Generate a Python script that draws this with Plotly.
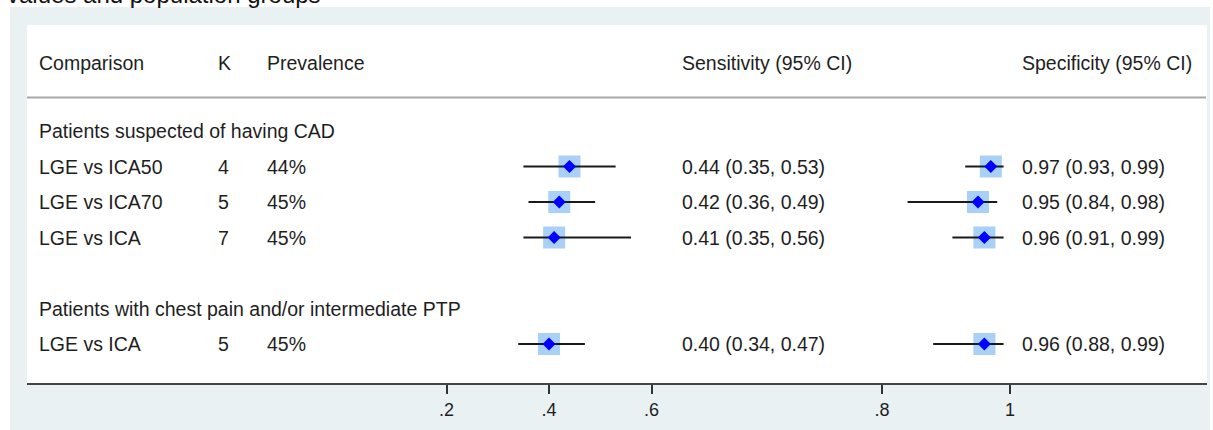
import plotly.graph_objects as go

W, H = 1213, 430

# ---------------- data ----------------
caption = "values and population groups"
headers = ["Comparison", "K", "Prevalence", "Sensitivity (95% CI)", "Specificity (95% CI)"]
groups = ["Patients suspected of having CAD", "Patients with chest pain and/or intermediate PTP"]
group_rows = [0, 5]
comparisons = ["LGE vs ICA50", "LGE vs ICA70", "LGE vs ICA", "LGE vs ICA"]
study_rows = [1, 2, 3, 6]
k_values = [4, 5, 7, 5]
prevalence = ["44%", "45%", "45%", "45%"]
sens = [0.44, 0.42, 0.41, 0.40]
sens_lo = [0.35, 0.36, 0.35, 0.34]
sens_hi = [0.53, 0.49, 0.56, 0.47]
spec = [0.97, 0.95, 0.96, 0.96]
spec_lo = [0.93, 0.84, 0.91, 0.88]
spec_hi = [0.99, 0.98, 0.99, 0.99]
sens_ticks = [0.2, 0.4, 0.6]
sens_ticktext = [".2", ".4", ".6"]
spec_ticks = [0.8, 1.0]
spec_ticktext = [".8", "1"]

# ---------------- layout helpers ----------------
FONT = "Arial, Liberation Sans, sans-serif"
TXT = "#1e1e1e"
BOX = "#a9d0f6"
DIAM = "#0000ff"
BG = "#e9f1f3"
FS = 19.5

ROW0_PX, ROW_STEP = 131.0, 35.5
PLOT_TOP, PLOT_BOT = 25, 383
SPLIT_PX = 820
PLOT_L, PLOT_R = 27, 1207


def px_x(x):
    return x / W


def px_y(y):
    return 1 - y / H


def row_of(ypx):
    return (ypx - ROW0_PX) / ROW_STEP


# sensitivity scale: .4 at 549px, 512.5 px per unit
def sens_val(px):
    return 0.4 + (px - 549) / 512.5


# specificity scale: .8 at 882px, 640 px per unit
def spec_val(px):
    return 0.8 + (px - 882) / 640.0


fig = go.Figure()

for xa, est, lo, hi in [("x", sens, sens_lo, sens_hi), ("x2", spec, spec_lo, spec_hi)]:
    fig.add_trace(go.Scatter(
        x=est, y=study_rows, xaxis=xa, yaxis="y", mode="markers",
        marker=dict(symbol="square", size=22, color=BOX, line=dict(width=0)),
        hoverinfo="skip", showlegend=False))
    fig.add_trace(go.Scatter(
        x=est, y=study_rows, xaxis=xa, yaxis="y", mode="markers",
        marker=dict(symbol="diamond", size=10, color=DIAM, line=dict(width=0)),
        error_x=dict(type="data", symmetric=False,
                     array=[h - e for h, e in zip(hi, est)],
                     arrayminus=[e - l for e, l in zip(est, lo)],
                     width=0, thickness=2, color="#1a1a1a"),
        showlegend=False))

annotations = []


def add_text(xpx, row, text, size=FS):
    annotations.append(dict(
        xref="paper", yref="y", x=px_x(xpx), y=row, text=text,
        xanchor="left", yanchor="middle", showarrow=False,
        font=dict(family=FONT, size=size, color=TXT)))


col_px = [37, 216, 265, 680, 1020]
header_row = row_of(63)
for xp, h in zip(col_px, headers):
    add_text(xp, header_row, h)

for g, r in zip(groups, group_rows):
    add_text(col_px[0], r, g)

for i, r in enumerate(study_rows):
    add_text(col_px[0], r, comparisons[i])
    add_text(col_px[1], r, str(k_values[i]))
    add_text(col_px[2], r, prevalence[i])
    add_text(col_px[3], r, f"{sens[i]:.2f} ({sens_lo[i]:.2f}, {sens_hi[i]:.2f})")
    add_text(col_px[4], r, f"{spec[i]:.2f} ({spec_lo[i]:.2f}, {spec_hi[i]:.2f})")

# cut-off caption at top (only its lower part is visible, as in the reference)
annotations.append(dict(
    xref="paper", yref="paper", x=px_x(5), y=px_y(9.5), text=caption,
    xanchor="left", yanchor="bottom", showarrow=False,
    font=dict(family=FONT, size=24, color="#111111")))

shapes = [
    dict(type="rect", xref="paper", yref="paper", layer="below",
         x0=px_x(10), x1=px_x(1210), y0=px_y(430), y1=px_y(7),
         fillcolor=BG, line=dict(width=0)),
    dict(type="rect", xref="paper", yref="paper", layer="below",
         x0=px_x(PLOT_L), x1=px_x(PLOT_R), y0=px_y(PLOT_BOT), y1=px_y(PLOT_TOP),
         fillcolor="white", line=dict(width=0)),
    dict(type="line", xref="paper", yref="paper", layer="below",
         x0=px_x(PLOT_L), x1=px_x(1206), y0=px_y(97.5), y1=px_y(97.5),
         line=dict(color="#a8a8a8", width=2)),
]

axis_common = dict(
    showgrid=False, zeroline=False, showline=True, linecolor="#444444", linewidth=2,
    ticks="outside", ticklen=9, tickwidth=2, tickcolor="#333333",
    tickfont=dict(family=FONT, size=18, color=TXT), anchor="y", fixedrange=True)

fig.update_layout(
    width=W, height=H,
    margin=dict(l=0, r=0, t=0, b=0),
    paper_bgcolor="white", plot_bgcolor="rgba(0,0,0,0)",
    showlegend=False,
    xaxis=dict(domain=[px_x(PLOT_L), px_x(SPLIT_PX)],
               range=[sens_val(PLOT_L), sens_val(SPLIT_PX)],
               tickvals=sens_ticks, ticktext=sens_ticktext, **axis_common),
    xaxis2=dict(domain=[px_x(SPLIT_PX), px_x(PLOT_R)],
                range=[spec_val(SPLIT_PX), spec_val(PLOT_R)],
                tickvals=spec_ticks, ticktext=spec_ticktext, **axis_common),
    yaxis=dict(domain=[px_y(PLOT_BOT), px_y(PLOT_TOP)],
               range=[row_of(PLOT_BOT), row_of(PLOT_TOP)],
               visible=False, fixedrange=True),
    annotations=annotations,
    shapes=shapes,
)

fig.write_html(
    "out.html",
    config={"displayModeBar": False},
    post_script="document.body.style.margin='0px';document.body.style.overflow='hidden';",
)
